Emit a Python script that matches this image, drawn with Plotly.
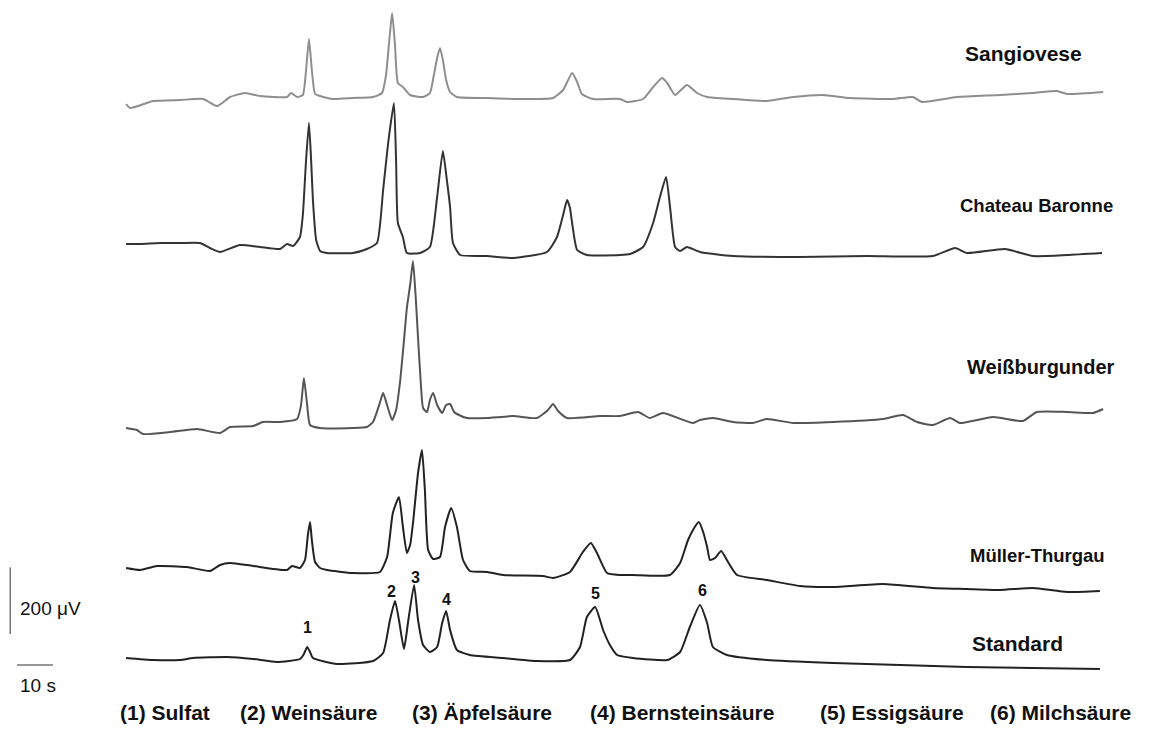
import plotly.graph_objects as go

# Electropherograms of organic acids in wine: migration time (s) vs. detector signal (µV)
sangiovese_t = [0.3, 1.4, 7.8, 15.3, 21.7, 25.6, 29.2, 33.3, 37.5, 45.0, 46.1, 47.8,
                49.4, 50.3, 51.1, 51.9, 52.8, 54.2, 57.8, 63.3, 68.9, 71.4,
                72.5, 73.3, 74.2, 75.0, 75.8, 77.2, 79.2, 82.8, 84.7,
                85.8, 86.7, 87.5, 88.3, 89.2, 90.3, 92.2, 100.6, 109.7, 118.9,
                121.7, 124.2, 125.6, 126.9, 130.0, 137.5, 139.4, 143.9, 146.7,
                149.2, 150.6, 152.8, 156.1, 158.9, 161.7, 168.9, 178.3, 185.6,
                193.9, 201.4, 213.3, 218.9, 221.4, 231.1, 243.1, 252.2, 258.9,
                261.7, 271.7]
sangiovese_uv = [-12, -24, -3, 0, 3, -18, 9, 21, 12, 9, 21, 9,
                 15, 90, 183, 90, 18, 12, 3, 6, 9, 21,
                 75, 165, 261, 165, 51, 39, 15, 9, 21,
                 75, 126, 156, 120, 60, 24, 9, 6, 3, 6,
                 30, 81, 54, 18, 3, 3, -6, 3, 39,
                 66, 51, 15, 45, 21, 9, 3, -3, 9,
                 15, 6, 3, 9, -6, 9, 15, 21, 27,
                 18, 24]

chateau_t = [0.3, 4.2, 9.7, 15.3, 20.8, 23.6, 26.4, 31.9, 37.5, 43.1, 45.0, 46.7,
             48.6, 49.4, 50.3, 51.1, 51.7, 52.2, 53.1, 54.2, 56.1, 63.3, 67.2,
             70.0, 71.7, 73.1, 74.7, 75.3, 75.8, 77.2, 78.3, 81.9, 84.7, 86.7,
             88.3, 89.4, 90.3, 91.1, 93.1, 100.6, 107.8, 117.2, 120.0, 121.7,
             122.8, 123.6, 124.2, 125.6, 128.3, 137.5, 140.3, 143.9, 146.7,
             148.6, 150.3, 151.4, 152.8, 154.2, 156.1, 159.7, 168.9, 187.5,
             206.1, 224.4, 230.6, 233.9, 244.4, 252.2, 261.7, 271.4]
chateau_uv = [33, 33, 36, 36, 36, 21, 9, 30, 24, 18, 33, 27,
              54, 120, 285, 396, 285, 165, 45, 12, 6, 6, 18,
              36, 195, 336, 456, 285, 96, 54, 6, 6, 24, 174,
              312, 225, 144, 36, 0, -3, -9, 9, 54, 120,
              165, 141, 96, 15, 0, 0, 3, 24, 96,
              174, 234, 144, 24, 12, 24, 9, -3, -6,
              -3, -3, 21, 6, 18, -3, 0, 6]

weiss_t = [0.3, 3.3, 5.0, 12.5, 20.0, 26.4, 29.2, 35.6, 38.3, 43.1, 47.8,
           48.9, 49.7, 50.6, 51.4, 54.2, 63.3, 67.2, 68.9, 70.6, 71.7, 72.8,
           74.2, 75.3, 76.4, 77.5, 78.3, 79.2, 80.0, 80.8, 81.4, 82.2, 82.8,
           83.9, 84.7, 85.6, 86.7, 88.1, 89.2, 90.3, 91.4, 92.2, 95.0, 100.6,
           107.8, 114.4, 117.5, 118.9, 120.3, 122.8, 131.9, 137.5, 142.5,
           145.8, 149.4, 157.8, 159.7, 163.3, 168.9, 174.4, 178.3, 185.6,
           196.7, 210.6, 216.1, 220.0, 224.4, 229.2, 231.9, 241.1, 249.4,
           253.3, 261.7, 268.9, 271.7]
weiss_uv = [-9, -15, -27, -21, -12, -24, -6, -3, 9, 9, 18,
            60, 141, 60, 0, -9, -9, -6, 9, 60, 96, 60,
            15, 45, 129, 255, 351, 420, 492, 375, 261, 120, 51,
            39, 75, 96, 60, 36, 60, 63, 39, 33, 21, 21,
            27, 21, 45, 63, 42, 21, 27, 27, 39,
            21, 36, 6, 15, 21, 9, 6, 18, 6,
            9, 18, 30, 9, 0, 21, 6, 24, 12,
            39, 39, 36, 48]

mueller_t = [0.3, 4.2, 8.9, 17.2, 23.6, 26.4, 29.2, 35.6, 45.0, 46.4, 48.6,
             50.0, 50.8, 51.4, 51.9, 52.8, 54.2, 56.1, 63.3, 70.8, 72.8, 74.4,
             76.1, 77.2, 78.3, 79.2, 80.0, 81.4, 82.5, 83.3, 84.2, 85.6, 87.5,
             88.9, 90.6, 92.2, 93.9, 95.8, 100.6, 105.0, 116.1, 118.9, 123.6,
             127.2, 129.4, 131.1, 133.9, 137.5, 141.1, 151.4, 154.2, 156.4,
             158.1, 159.4, 160.6, 161.7, 162.5, 163.9, 165.6, 167.5, 170.0,
             178.3, 187.5, 196.7, 210.6, 224.4, 233.9, 243.1, 252.2, 261.7,
             270.8]
mueller_uv = [21, 15, 27, 24, 12, 30, 36, 27, 15, 27, 21,
              45, 120, 159, 105, 39, 21, 15, 6, 9, 54, 186,
              234, 144, 66, 90, 156, 306, 375, 255, 75, 48, 54,
              144, 201, 144, 45, 12, 9, 0, -3, -9, 9,
              69, 96, 66, 6, 0, 0, 0, 36, 105,
              141, 159, 129, 84, 45, 51, 72, 39, 0,
              -15, -33, -36, -27, -39, -42, -45, -39, -51,
              -48]

standard_t = [0.3, 7.8, 15.3, 18.9, 28.3, 35.6, 42.2, 48.6, 49.7, 50.6, 51.4,
              52.2, 58.9, 68.9, 71.7, 73.6, 75.0, 76.1, 77.5, 78.6, 80.3, 81.4,
              82.8, 84.7, 86.7, 88.1, 89.2, 90.3, 92.2, 95.8, 105.0, 114.4,
              123.6, 126.4, 128.3, 130.6, 132.8, 134.7, 136.7, 141.1, 150.6,
              154.2, 156.9, 159.7, 161.7, 163.3, 167.2, 178.3, 196.7, 215.3,
              233.9, 252.2, 270.8]
standard_uv = [6, 0, 0, 6, 9, 3, -6, 3, 18, 39, 24,
               6, -12, -3, 21, 120, 177, 120, 33, 111, 225, 120,
               45, 24, 39, 111, 147, 90, 30, 15, 6, -3,
               0, 39, 129, 159, 90, 45, 15, 6, 0,
               24, 99, 165, 111, 39, 15, 0, -9, -15,
               -21, -24, -27]

sample_names = ["Sangiovese", "Chateau Baronne", "Weißburgunder", "Müller-Thurgau", "Standard"]
peak_numbers = ["1", "2", "3", "4", "5", "6"]
peak_times = [50.8, 73.9, 80.6, 89.4, 130.6, 160.3]
peak_label_uv = [99, 207, 249, 183, 201, 210]
acid_names = ["(1) Sulfat", "(2) Weinsäure", "(3) Äpfelsäure",
              "(4) Bernsteinsäure", "(5) Essigsäure", "(6) Milchsäure"]

# vertical stacking of the traces (µV)
offsets = [1680, 1215, 705, 255, 0]
colors = ["#8e8e8e", "#333333", "#555555", "#222222", "#222222"]
series = [(sangiovese_t, sangiovese_uv), (chateau_t, chateau_uv),
          (weiss_t, weiss_uv), (mueller_t, mueller_uv), (standard_t, standard_uv)]
label_pos = [(232.8, 1821), (231.4, 1365), (233.3, 879), (234.2, 315), (234.7, 51)]
label_size = [21, 18.5, 20, 18.5, 21]

W, H = 1169, 731
X0, XPX = 125.0, 3.6      # pixel of t=0, pixels per second
Y0, YPX = 660.0, 1 / 3.0  # pixel of 0 µV (Standard), pixels per µV

fig = go.Figure()
for (t, uv), off, col in zip(series, offsets, colors):
    fig.add_trace(go.Scatter(x=t, y=[v + off for v in uv], mode="lines",
                             line=dict(color=col, width=2, shape="spline", smoothing=0.5),
                             hoverinfo="skip", showlegend=False))

font_b = "Liberation Sans, Arial, sans-serif"
for name, (lx, ly), fs in zip(sample_names, label_pos, label_size):
    fig.add_annotation(x=lx, y=ly, text="<b>%s</b>" % name, showarrow=False,
                       xanchor="left", yanchor="middle",
                       font=dict(family=font_b, size=fs, color="#111111"))

for num, pt, pv in zip(peak_numbers, peak_times, peak_label_uv):
    fig.add_annotation(x=pt, y=pv, text="<b>%s</b>" % num, showarrow=False,
                       xanchor="center", yanchor="middle",
                       font=dict(family=font_b, size=16, color="#111111"))

# scale bars: 200 µV and 10 s
fig.add_shape(type="line", x0=-31.9, x1=-31.9, y0=78, y1=278,
              line=dict(color="#333333", width=1))
fig.add_shape(type="line", x0=-30, x1=-20, y0=-15, y1=-15,
              line=dict(color="#333333", width=1))
fig.add_annotation(x=-29.7, y=156, text="200 μV", showarrow=False, xanchor="left",
                   yanchor="middle", font=dict(family=font_b, size=19, color="#111111"))
fig.add_annotation(x=-29.7, y=-75, text="10 s", showarrow=False, xanchor="left",
                   yanchor="middle", font=dict(family=font_b, size=19, color="#111111"))

# acid key along the bottom
key_x = [118, 238, 410, 588, 818, 988]
for txt, kx in zip(acid_names, key_x):
    fig.add_annotation(x=kx / W, xref="paper", y=1 - 712 / H, yref="paper",
                       text="<b>%s</b>" % txt, showarrow=False, xanchor="left",
                       yanchor="middle",
                       font=dict(family=font_b, size=21, color="#111111"))

fig.update_layout(
    width=W, height=H, margin=dict(l=0, r=0, t=0, b=0),
    paper_bgcolor="white", plot_bgcolor="white",
    xaxis=dict(range=[(0 - X0) / XPX, (W - X0) / XPX], visible=False, fixedrange=True),
    yaxis=dict(range=[(Y0 - H) / YPX, Y0 / YPX], visible=False, fixedrange=True),
)

fig.write_html("out.html")
